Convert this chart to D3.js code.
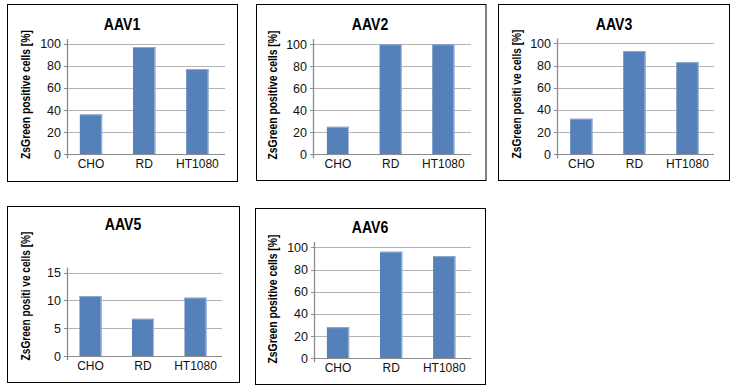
<!DOCTYPE html>
<html><head><meta charset="utf-8">
<script src="https://cdn.jsdelivr.net/npm/d3@7"></script>
<style>html,body{margin:0;padding:0;background:#fff;}svg{display:block;}</style>
</head><body>
<script>
const categories = ["CHO", "RD", "HT1080"];
const titles = ["AAV1", "AAV2", "AAV3", "AAV5", "AAV6"];
const aav1 = [36, 97, 77];
const aav2 = [25, 100, 100];
const aav3 = [32, 93, 83];
const aav5 = [10.8, 6.7, 10.5];
const aav6 = [28, 96, 92];
const ticksPct = [0, 20, 40, 60, 80, 100];
const ticksAav5 = [0, 5, 10, 15];
const yLabels = ["ZsGreen positive cells [%]", "ZsGreen positive cells [%]", "ZsGreen positi ve cells [%]", "ZsGreen positi ve cells [%]", "ZsGreen positive cells [%]"];

const seriesList = [aav1, aav2, aav3, aav5, aav6];
const tickList = [ticksPct, ticksPct, ticksPct, ticksAav5, ticksPct];

// layout (pixel geometry only)
const layout = [
  {box:[7.5,4.5,230,177], ax:67, xr:[64.4,224], gr:225, y0:154.3, yTop:43.7, axTop:39, tx:122, ty:29.5, lx:25, ly:94.5},
  {box:[256.5,4.5,229.5,176], ax:313, xr:[311.6,469.7], gr:471, y0:154.3, yTop:44.3, axTop:39, tx:370, ty:29.5, lx:271.7, ly:95},
  {box:[498.5,4.5,231,176], ax:557, xr:[554.8,714], gr:714, y0:154.3, yTop:43.3, axTop:38.5, tx:614, ty:29.5, lx:515.7, ly:94},
  {box:[7.5,206.5,232,176], ax:67, xr:[64.25,221.75], gr:222, y0:356, yTop:272.7, axTop:267.7, tx:123, ty:229.5, lx:24.5, ly:296},
  {box:[255.5,208.5,230,176], ax:314, xr:[311.5,470.8], gr:471, y0:358.3, yTop:247.3, axTop:242, tx:370, ty:232.5, lx:271.7, ly:299}
];

const svg = d3.select("body").append("svg").attr("width", 733).attr("height", 389);
const font = "'Liberation Sans', Arial, sans-serif";

function fitX(sel, target, tx, ty, rot) {
  const w = sel.node().getComputedTextLength();
  const s = w > 0 ? target / w : 1;
  sel.attr("transform", `translate(${tx},${ty})${rot ? " rotate(-90)" : ""} scale(${s},1)`);
}

seriesList.forEach((vals, i) => {
  const L = layout[i];
  const ticks = tickList[i];
  const ymax = d3.max(ticks);
  const g = svg.append("g");
  g.append("rect").attr("x", L.box[0]).attr("y", L.box[1]).attr("width", L.box[2]).attr("height", L.box[3])
    .attr("fill", "#fff").attr("stroke", "#000").attr("stroke-width", 1);

  const x = d3.scaleBand().domain(categories).range(L.xr).paddingInner(0.58).paddingOuter(0.29);
  const y = d3.scaleLinear().domain([0, ymax]).range([L.y0, L.yTop]);

  // gridlines
  g.selectAll(".grid").data(ticks.filter(t => t > 0)).enter().append("line")
    .attr("x1", L.ax).attr("x2", L.gr).attr("y1", d => Math.round(y(d)) + 0.5).attr("y2", d => Math.round(y(d)) + 0.5)
    .attr("stroke", "#b4b4b4").attr("stroke-width", 1);

  // bars
  g.selectAll(".bar").data(vals).enter().append("rect")
    .attr("x", (d, j) => x(categories[j])).attr("width", x.bandwidth())
    .attr("y", d => y(d)).attr("height", d => L.y0 - y(d))
    .attr("fill", "#5580ba");
  g.selectAll(".edge").data(vals).enter().append("line")
    .attr("x1", (d, j) => x(categories[j]) + x.bandwidth() - 0.5).attr("x2", (d, j) => x(categories[j]) + x.bandwidth() - 0.5)
    .attr("y1", d => y(d)).attr("y2", L.y0)
    .attr("stroke", "#a9bfdd").attr("stroke-width", 1);
  g.selectAll(".topedge").data(vals).enter().append("line")
    .attr("x1", (d, j) => x(categories[j])).attr("x2", (d, j) => x(categories[j]) + x.bandwidth())
    .attr("y1", d => y(d) + 0.5).attr("y2", d => y(d) + 0.5)
    .attr("stroke", "#8eaad2").attr("stroke-width", 1);

  // x axis line
  const yb = Math.round(L.y0) + 0.5;
  g.append("line").attr("x1", L.ax).attr("x2", L.gr).attr("y1", yb).attr("y2", yb)
    .attr("stroke", "#8c8c8c").attr("stroke-width", 1);
  // y axis line
  g.append("line").attr("x1", L.ax + 0.5).attr("x2", L.ax + 0.5).attr("y1", L.axTop).attr("y2", L.y0 + 4)
    .attr("stroke", "#8c8c8c").attr("stroke-width", 1.3);
  // y ticks
  g.selectAll(".tk").data(ticks).enter().append("line")
    .attr("x1", L.ax - 3).attr("x2", L.ax).attr("y1", d => Math.round(y(d)) + 0.5).attr("y2", d => Math.round(y(d)) + 0.5)
    .attr("stroke", "#8c8c8c");
  g.selectAll(".tl").data(ticks).enter().append("text")
    .attr("x", L.ax - 6).attr("y", d => y(d) + 4.5)
    .attr("text-anchor", "end").attr("font-family", font).attr("font-size", 12.5).attr("fill", "#111")
    .text(d => d);
  // category labels
  g.selectAll(".cl").data(categories).enter().append("text")
    .attr("x", d => x(d) + x.bandwidth() / 2).attr("y", L.y0 + 14)
    .attr("text-anchor", "middle").attr("font-family", font).attr("font-size", 12).attr("fill", "#111")
    .text(d => d);
  // title
  const t = g.append("text").attr("text-anchor", "middle")
    .attr("font-family", font).attr("font-weight", "bold").attr("font-size", 16).attr("fill", "#000")
    .text(titles[i]);
  fitX(t, 36.5, L.tx, L.ty, false);
  // y label
  const yl = g.append("text").attr("text-anchor", "middle").attr("font-family", font)
    .attr("font-weight", "bold").attr("font-size", 13).attr("fill", "#000")
    .text(yLabels[i]);
  fitX(yl, 129, L.lx + 5, L.ly, true);
});
</script>
</body></html>
